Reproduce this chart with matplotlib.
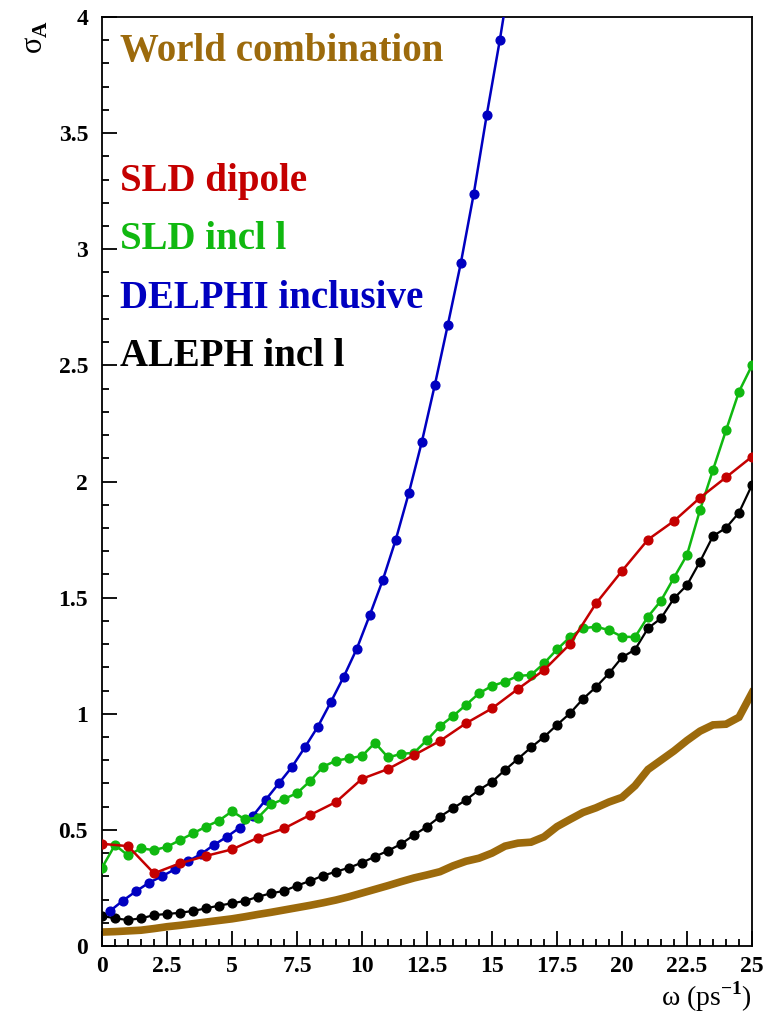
import numpy as np
import matplotlib.pyplot as plt

plt.rcParams['font.family'] = ['Liberation Serif', 'DejaVu Serif']
plt.rcParams['font.weight'] = 'bold'
plt.rcParams['mathtext.fontset'] = 'custom'
plt.rcParams['mathtext.rm'] = 'Liberation Serif'

# pontos em omega (ps^-1)
w_half = np.arange(0, 25.01, 0.5)        # grelha de 0.5 (world, SLD incl, ALEPH)
w_int = np.arange(0, 26)                 # SLD dipole de 1 em 1
w_delphi = np.arange(0.3, 15.81, 0.5)    # DELPHI começa desviado

world = [0.06, 0.062, 0.065, 0.068, 0.075, 0.083, 0.089, 0.096, 0.103, 0.11,
         0.117, 0.126, 0.136, 0.145, 0.155, 0.165, 0.175, 0.186, 0.198, 0.212,
         0.228, 0.244, 0.26, 0.277, 0.293, 0.306, 0.32, 0.345, 0.365, 0.378,
         0.40, 0.43, 0.443, 0.447, 0.47, 0.514, 0.545, 0.575, 0.595, 0.62,
         0.64, 0.69, 0.76, 0.80, 0.84, 0.885, 0.925, 0.952, 0.955, 0.985, 1.09]

sld_dipole = [0.44, 0.43, 0.313, 0.356, 0.388, 0.416, 0.466, 0.506, 0.564, 0.62,
              0.72, 0.762, 0.822, 0.883, 0.959, 1.023, 1.107, 1.188, 1.30, 1.475,
              1.615, 1.75, 1.83, 1.93, 2.018, 2.107]

sld_incl = [0.337, 0.435, 0.39, 0.42, 0.413, 0.427, 0.456, 0.485, 0.514, 0.54,
            0.58, 0.545, 0.553, 0.61, 0.633, 0.658, 0.71, 0.772, 0.798, 0.808,
            0.818, 0.875, 0.812, 0.827, 0.832, 0.887, 0.947, 0.99, 1.038, 1.088,
            1.12, 1.138, 1.163, 1.167, 1.217, 1.277, 1.33, 1.368, 1.375, 1.36,
            1.332, 1.33, 1.418, 1.487, 1.586, 1.684, 1.877, 2.05, 2.22, 2.387, 2.50]

delphi = [0.15, 0.195, 0.235, 0.272, 0.30, 0.33, 0.365, 0.395, 0.435, 0.47,
          0.51, 0.56, 0.63, 0.70, 0.77, 0.855, 0.944, 1.05, 1.16, 1.28,
          1.425, 1.576, 1.75, 1.95, 2.17, 2.415, 2.674, 2.94, 3.24, 3.58, 3.90, 4.25]

aleph = [0.13, 0.119, 0.112, 0.119, 0.133, 0.138, 0.143, 0.151, 0.162, 0.174,
         0.184, 0.194, 0.212, 0.227, 0.237, 0.26, 0.28, 0.303, 0.32, 0.337,
         0.359, 0.385, 0.41, 0.439, 0.478, 0.514, 0.557, 0.593, 0.629, 0.672,
         0.707, 0.758, 0.806, 0.855, 0.90, 0.952, 1.002, 1.064, 1.115, 1.174,
         1.243, 1.276, 1.368, 1.411, 1.497, 1.554, 1.655, 1.765, 1.80, 1.866, 1.985]

labels = ['World combination', 'SLD dipole', 'SLD incl l', 'DELPHI inclusive', 'ALEPH incl l']
cores = ['#9c6a0c', '#c40000', '#10b810', '#0000c0', '#000000']

fig = plt.figure(figsize=(7.77, 10.14), dpi=100)
ax = fig.add_axes([102/777, 1 - 946/1014, 650/777, 929/1014])

# curva mundial grossa sem marcadores
ax.plot(w_half, world, color=cores[0], lw=5.5, solid_joinstyle='miter', zorder=2)
ax.plot(w_half, aleph, color=cores[4], lw=1.6, marker='o', ms=6.3, zorder=3)
ax.plot(w_delphi, delphi, color=cores[3], lw=1.8, marker='o', ms=6.3, zorder=3)
ax.plot(w_half, sld_incl, color=cores[2], lw=1.8, marker='o', ms=6.3, zorder=4)
ax.plot(w_int, sld_dipole, color=cores[1], lw=1.8, marker='o', ms=6.3, zorder=5)

ax.set_xlim(0, 25)
ax.set_ylim(0, 4)
ax.set_xticks(np.arange(0, 25.1, 2.5))
ax.set_xticklabels(['0', '2.5', '5', '7.5', '10', '12.5', '15', '17.5', '20', '22.5', '25'])
ax.set_xticks(np.arange(0, 25.1, 0.5), minor=True)
ax.set_yticks(np.arange(0, 4.01, 0.5))
ax.set_yticklabels(['0', '0.5', '1', '1.5', '2', '2.5', '3', '3.5', '4'])
ax.set_yticks(np.arange(0, 4.01, 0.1), minor=True)
ax.tick_params(which='both', direction='in', top=False, right=False, width=1.3, labelsize=17)
ax.tick_params(which='major', length=11)
ax.tick_params(which='minor', length=5)
ax.tick_params(axis='y', pad=10)
ax.tick_params(axis='x', pad=7)
for s in ax.spines.values():
    s.set_linewidth(1.3)

# legenda como texto colorido
ys = [3.85, 3.29, 3.04, 2.79, 2.54]
for lab, c, y in zip(labels, cores, ys):
    ax.text(0.7, y, lab, color=c, fontsize=28, fontweight='bold', va='center')

fig.text(752/777, 1 - 1006/1014, r'ω (ps$^{\mathrm{-1}}$)', ha='right', va='baseline',
         fontsize=20, fontweight='normal')
fig.text(36/777, 1 - 20/1014, r'σ$_{\mathrm{A}}$', rotation=90, ha='center', va='top',
         fontsize=22, fontweight='normal')

fig.savefig('out.png', dpi=100)
